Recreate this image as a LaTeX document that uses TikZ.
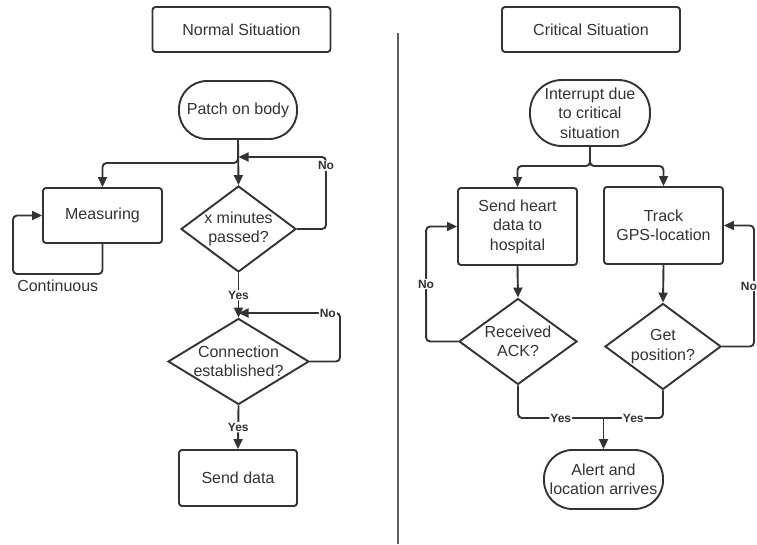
\documentclass[tikz,border=0pt]{standalone}
\usepackage{fontspec}
\setmainfont{Liberation Sans}
\usepackage{xcolor}
\usepackage{tikz}
\usetikzlibrary{arrows.meta}
\usetikzlibrary{shapes.geometric}
\definecolor{tinta}{HTML}{333333}
\definecolor{divisor}{HTML}{5E5E5E}
\tikzset{
  caixa/.style={draw=tinta, line width=1.9pt, rounded corners=3pt, minimum width=119pt, minimum height=#1, inner sep=0pt, align=center, text=tinta, font=\fontsize{16}{19.5}\selectfont},
  caixa/.default=55pt,
  terminal/.style={caixa=#1, rounded corners=#1/2-1pt},
  decisao/.style={diamond, draw=tinta, line width=1.9pt, minimum width=#1, minimum height=86pt, inner sep=0pt},
  texto/.style={align=center, text=tinta, inner sep=0pt, font=\fontsize{16}{19.5}\selectfont},
  rotulo/.style={fill=white, inner sep=1pt, text=tinta, font=\fontsize{12}{14}\selectfont\bfseries},
  linha/.style={draw=tinta, line width=1.9pt, rounded corners=4pt},
  seta/.style={linha, -{Triangle[length=10pt, width=9pt]}},
}
\begin{document}
\begin{tikzpicture}[x=1pt, y=-1pt]
  \useasboundingbox (0,0) rectangle (757,544);
  % titles and divider
  \node[caixa=45pt, minimum width=178pt] (normal) at (241.5,29.5) {Normal Situation};
  \node[caixa=45pt, minimum width=178pt] (critica) at (591,29.5) {Critical Situation};
  \draw[divisor, line width=1.9pt] (398,33) -- (398,544);

  % normal situation
  \node[terminal=58pt, minimum width=118pt] (adesivo) at (238,110) {Patch on body};
  \node[caixa] (medicao) at (102.5,215.5) {Measuring};
  \node[decisao=115pt] (minutos) at (238.5,229) {};
  \node[decisao=141pt] (conexao) at (238.5,361.5) {};
  \node[caixa=56pt, minimum width=118pt] (envio) at (238,478) {Send data};

  % critical situation
  \node[terminal=66pt, minimum width=120pt] (interrupcao) at (590,113) {Interrupt due\\to critical\\situation};
  \node[caixa=77pt] (coracao) at (517.5,226.5) {Send heart\\data to\\hospital};
  \node[caixa=77pt] (gps) at (663.5,225.5) {Track\\GPS-location};
  \node[decisao=118pt] (ack) at (518,341.5) {};
  \node[decisao=116pt] (posicao) at (663,346.5) {};
  \node[terminal=59pt, minimum width=119pt] (alerta) at (603.5,479.5) {Alert and\\location arrives};

  \foreach \no/\txt in {minutos/{x minutes\\passed?}, conexao/{Connection\\established?},
      ack/{Received\\ACK?}, posicao/{Get\\position?}}
    \node[texto] (\no-txt) at (\no) {\txt};

  % connectors, left
  \draw[seta] (adesivo.south) -- (adesivo.south |- 0,163) -| (medicao.north);
  \draw[seta] (adesivo.south) -- (minutos.north);
  \draw[seta] (minutos.east) -| node[rotulo, pos=0.94] {No} (326,157) -- (minutos.north |- 0,157);
  \draw[seta] (minutos.south) -- node[rotulo] {Yes} (conexao.north);
  \draw[seta] (conexao.east) -| (340,313) -- node[rotulo, pos=0.12] {No} (conexao.north |- 0,313);
  \draw[seta] (conexao.south) -- node[rotulo] {Yes} (envio.north);
  \draw[seta] (medicao.south) |- node[texto, below=5pt, pos=0.75] {Continuous} (13,274) |- (medicao.west);

  % connectors, right
  \draw[seta] (interrupcao.south) -- (interrupcao.south |- 0,166) -| (coracao.north);
  \draw[seta] (interrupcao.south) -- (interrupcao.south |- 0,166) -| (gps.north);
  \draw[seta] (coracao.south) -- (ack.north);
  \draw[seta] (gps.south) -- (posicao.north);
  \draw[seta] (ack.west) -| node[rotulo, pos=0.75] {No} ([xshift=-31pt]coracao.west) -- (coracao.west);
  \draw[seta] (posicao.east) -| node[rotulo, pos=0.75, xshift=-5pt] {No} ([xshift=30pt]gps.east) -- (gps.east);
  \coordinate (juncao) at (alerta.north |- 0,418);
  \draw[linha] (ack.south) |- node[rotulo, pos=0.75] {Yes} (juncao);
  \draw[linha] (posicao.south) |- node[rotulo, pos=0.75] {Yes} (juncao);
  \draw[seta] (juncao) -- (alerta.north);
\end{tikzpicture}
\end{document}
